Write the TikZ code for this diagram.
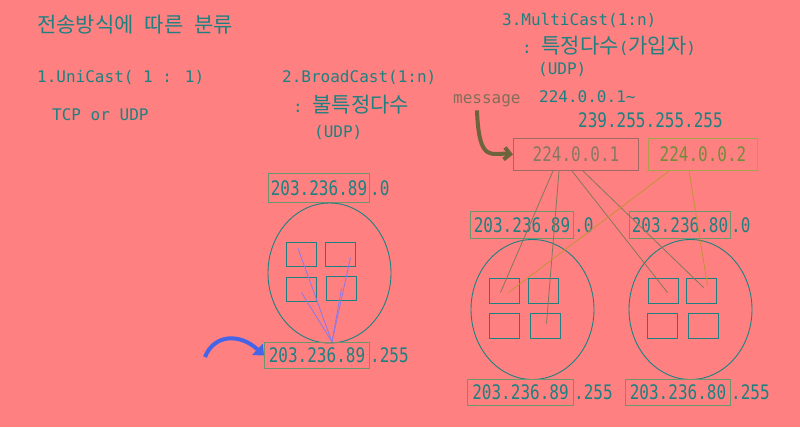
\documentclass[tikz,border=0pt]{standalone}
\usepackage{fontspec}
\newfontfamily\monof{DejaVu Sans Mono}
\newfontfamily\ipfont[FakeStretch=0.8]{DejaVu Sans Mono}
\newfontfamily\krfont{Noto Sans CJK KR}
\usetikzlibrary{arrows.meta,calc,shapes.geometric}
\definecolor{bgc}{RGB}{255,128,128}
\definecolor{tealc}{RGB}{30,128,128}
\definecolor{ipboxc}{RGB}{110,150,110}
\definecolor{mconec}{RGB}{160,105,100}
\definecolor{mconetxt}{RGB}{135,120,100}
\definecolor{mcolinec}{RGB}{130,120,95}
\definecolor{mctwoc}{RGB}{170,160,80}
\definecolor{mctwotxt}{RGB}{115,140,60}
\definecolor{mctwolinec}{RGB}{195,145,60}
\definecolor{msgc}{RGB}{130,110,90}
\definecolor{msgarrowc}{RGB}{110,100,60}
\definecolor{blinec}{RGB}{140,120,230}
\definecolor{barrowc}{RGB}{70,100,230}
\newcommand\txm{\monof\fontsize{16bp}{19bp}\selectfont}
\newcommand\txk{\krfont\fontsize{21bp}{24bp}\selectfont\spaceskip=11bp\relax}
\newcommand\txip{\ipfont\fontsize{20bp}{24bp}\selectfont}
\begin{document}
\begin{tikzpicture}[x=1bp,y=-1bp,
  txt/.style={inner sep=0pt, anchor=west, text=tealc},
  ipboxst/.style={draw=ipboxc, line width=1bp, inner sep=0pt, text=tealc, font=\txip},
  ipsuf/.style={inner sep=0pt, anchor=west, text=tealc, font=\txip},
  sbox/.style={draw=tealc, line width=1bp, inner sep=0pt, minimum width=30bp, minimum height=25bp},
  net/.style={draw=tealc, line width=0.9bp, ellipse, inner sep=0pt, minimum width=123bp, minimum height=140bp},
  bcline/.style={draw=blinec, line width=0.8bp},
  lineone/.style={draw=mcolinec, line width=0.8bp},
  linetwo/.style={draw=mctwolinec, line width=0.8bp}]
\fill[bgc] (0,0) rectangle (800,427);
\useasboundingbox (0,0) rectangle (800,427);

% titles
\node[txt] (title) at (37,25) {\txk 전송방식에 따른 분류};
\node[txt] (uni) at (37,77) {\txm 1.UniCast( 1 : 1)};
\node[txt] (tcp) at (52,115) {\txm TCP or UDP};
\node[txt] (bro) at (282,77) {\txm 2.BroadCast(1:n)};
\node[txt] (bro2) at (293,105) {\txm :\ \txk 불특정다수};
\node[txt] (bro3) at (314,132.5) {\txm (UDP)};
\node[txt] (mul) at (502,20) {\txm 3.MultiCast(1:n)};
\node[txt] (mul2) at (522,46) {\txm :\ \txk 특정다수\txm (\txk 가입자\txm )};
\node[txt] (mul3) at (538,69.5) {\txm (UDP)};
\node[txt] (mul4) at (539,96.5) {\txm 224.0.0.1\char`\~};
\node[txt] (mul5) at (578,120.5) {\txip 239.255.255.255};
\node[txt, text=msgc] (msg) at (453,101) {\txm message};

% broadcast network
\node[ipboxst, minimum width=101bp, minimum height=29bp] (bt) at (319,188) {203.236.89};
\node[ipsuf] (btx) at (bt.east) {.0};
\node[net] (bnet) at (329.5,273) {};
\node[sbox, minimum height=24bp] (bA) at (301.5,254.5) {};
\node[sbox, minimum height=24bp] (bB) at (340.5,254.5) {};
\node[sbox, minimum height=24bp] (bC) at (301.5,289.5) {};
\node[sbox, minimum height=24bp] (bD) at (341.5,288.5) {};
\node[ipboxst, minimum width=105bp, minimum height=26bp] (bb) at (317,355.5) {203.236.89};
\node[ipsuf] (bbx) at (bb.east) {.255};

% left multicast network
\node[ipboxst, minimum width=103bp, minimum height=27bp] (lt) at (522,225) {203.236.89};
\node[ipsuf] (ltx) at (lt.east) {.0};
\node[net] (lnet) at (532.5,309.5) {};
\node[sbox] (lA) at (504.5,291) {};
\node[sbox] (lB) at (543.5,291) {};
\node[sbox] (lC) at (504.5,326) {};
\node[sbox] (lD) at (545.5,326) {};
\node[ipboxst, minimum width=106bp, minimum height=26bp] (lbot) at (520.5,392.5) {203.236.89};
\node[ipsuf] (lbx) at (lbot.east) {.255};

% right multicast network
\node[ipboxst, minimum width=101bp, minimum height=27bp] (rt) at (680,225) {203.236.80};
\node[ipsuf] (rtx) at (rt.east) {.0};
\node[net] (rnet) at (690.5,309.5) {};
\node[sbox] (rA) at (663.5,291) {};
\node[sbox] (rB) at (701.5,291) {};
\node[sbox] (rC) at (662.5,326) {};
\node[sbox] (rD) at (703.5,326) {};
\node[ipboxst, minimum width=105bp, minimum height=26bp] (rbot) at (678,392.5) {203.236.80};
\node[ipsuf] (rbx) at (rbot.east) {.255};

% multicast groups
\node[draw=mconec, line width=1bp, inner sep=0pt, minimum width=125bp, minimum height=32bp, text=mconetxt, font=\txip] (mA) at (576,154.5) {224.0.0.1};
\node[draw=mctwoc, line width=1bp, inner sep=0pt, minimum width=109bp, minimum height=32bp, text=mctwotxt, font=\txip] (mB) at (703,154.5) {224.0.0.2};

% connectors
\coordinate (bc) at ($(bb.north west)+(68,0)$);
\draw[bcline] (bc) -- ($(bA)+(-3.5,-6)$);
\draw[bcline] (bc) -- ($(bB)+(10,3)$);
\draw[bcline] (bc) -- ($(bC)+(0,3)$);
\draw[bcline] (bc) -- (bD.center);
\coordinate (bstart) at (205,357);
\draw[barrowc, line width=4bp, -{Triangle[length=9bp,width=15bp]}] (bstart) .. controls (214,334) and (240,333) .. (bb.west);
\draw[lineone] ($(mA.south west)+(40,0)$) -- ($(lA)+(-4,1.5)$);
\draw[lineone] ($(mA.south west)+(46,0)$) -- ($(lD)+(1,-2.5)$);
\draw[lineone] ($(mA.south west)+(59,0)$) -- ($(rA)+(4,1.5)$);
\draw[lineone] ($(mA.south west)+(70,0)$) -- ($(rB)+(2,-3.5)$);
\draw[linetwo] ($(mB.south west)+(21,0)$) -- ($(lA)+(4,1.5)$);
\draw[linetwo] ($(mB.south west)+(41,0)$) -- ($(rB)+(6,-5.5)$);
\draw[msgarrowc, line width=4bp, -{Straight Barb[length=6bp,width=12bp]}] ($(msg.south west)+(24,3)$) .. controls (479,165) and (492,152) .. (mA.west);
\end{tikzpicture}
\end{document}
